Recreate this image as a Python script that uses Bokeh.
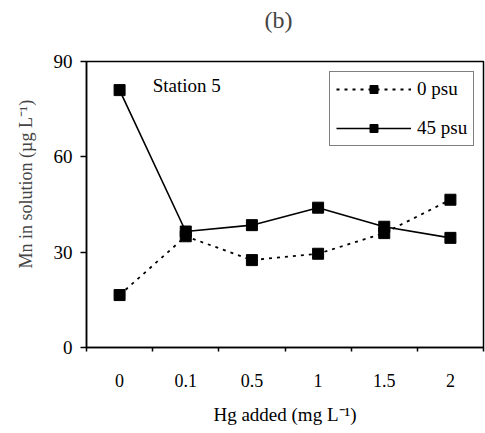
from bokeh.plotting import figure
from bokeh.models import Range1d, FixedTicker, Label, Legend, LegendItem, Title
from bokeh.embed import file_html
from bokeh.resources import INLINE
import numpy as np

# Mn released into solution at Station 5 versus Hg dose
hg_added = ["0", "0.1", "0.5", "1", "1.5", "2"]
mn_0psu = [16.5, 35.0, 27.5, 29.5, 36.0, 46.5]
mn_45psu = [81.0, 36.5, 38.5, 44.0, 38.0, 34.5]
y_ticks = [0, 30, 60, 90]

SERIF = "'Liberation Serif', 'Times New Roman', serif"

# categories sit at the middle of equal-width slots; ticks mark slot edges
xpos = np.arange(len(hg_added)) + 0.5

p = figure(width=485, height=433, output_backend="svg", toolbar_location=None,
           x_range=Range1d(0, len(hg_added)), y_range=Range1d(0, 90),
           min_border_left=85, min_border_right=2, min_border_top=61,
           min_border_bottom=86)

# panel tag; the empty second line lifts it well above the frame
p.title = Title(text="(b)\n", align="left", offset=178, text_font=SERIF,
                text_font_size="24px", text_font_style="normal",
                vertical_align="bottom", standoff=6)

p.background_fill_color = "white"
p.border_fill_color = "white"
p.outline_line_color = "black"
p.outline_line_width = 1.5
p.grid.visible = False

# x axis
xa = p.xaxis[0]
xa.ticker = FixedTicker(ticks=list(xpos), minor_ticks=list(range(len(hg_added) + 1)))
xa.major_label_overrides = {float(x): lab for x, lab in zip(xpos, hg_added)}
xa.major_tick_line_color = None
xa.minor_tick_in = 0
xa.minor_tick_out = 4
xa.minor_tick_line_color = "black"
xa.minor_tick_line_width = 1.5
xa.axis_line_width = 1.5
xa.major_label_standoff = 20
xa.major_label_text_font = SERIF
xa.major_label_text_font_size = "18px"
xa.major_label_text_color = "black"
xa.axis_label = "Hg added (mg L\u207b\u00b9)"
xa.axis_label_text_font = SERIF
xa.axis_label_text_font_size = "19px"
xa.axis_label_text_font_style = "normal"
xa.axis_label_text_color = "black"
xa.axis_label_standoff = 14

# y axis
ya = p.yaxis[0]
ya.ticker = FixedTicker(ticks=y_ticks)
ya.minor_tick_line_color = None
ya.major_tick_in = 0
ya.major_tick_out = 6
ya.major_tick_line_width = 1.5
ya.axis_line_width = 1.5
ya.major_label_standoff = 8
ya.major_label_text_font = SERIF
ya.major_label_text_font_size = "19px"
ya.major_label_text_color = "black"

# y-axis title set as a side title so it can sit above the frame's middle
p.add_layout(Title(text="Mn in solution (\u00b5g L\u207b\u00b9)", align="left",
                   offset=79, text_font=SERIF, text_font_size="18px",
                   text_font_style="normal", vertical_align="middle",
                   standoff=28), "left")

# series
l0 = p.line(xpos, mn_0psu, line_color="black", line_width=1.8, line_dash="3 5")
m0 = p.scatter(xpos, mn_0psu, marker="square", size=11, fill_color="black",
               line_color="black")
l45 = p.line(xpos, mn_45psu, line_color="black", line_width=1.6)
m45 = p.scatter(xpos, mn_45psu, marker="square", size=11, fill_color="black",
                line_color="black")

p.add_layout(Label(x=1.0, y=82.5, text="Station 5", text_font=SERIF,
                   text_font_size="19px", text_baseline="middle",
                   text_color="black"))

legend = Legend(items=[LegendItem(label="0 psu", renderers=[l0, m0]),
                       LegendItem(label="45 psu", renderers=[l45, m45])],
                location=(243, 201), orientation="vertical",
                label_text_font=SERIF, label_text_font_size="19px",
                label_text_color="black", label_height=20,
                glyph_width=75, glyph_height=20, spacing=17,
                padding=6, margin=0, label_standoff=6,
                border_line_color="black", border_line_width=1.2,
                background_fill_alpha=1.0)
p.add_layout(legend)

open("out.html", "w").write(file_html(p, INLINE))
